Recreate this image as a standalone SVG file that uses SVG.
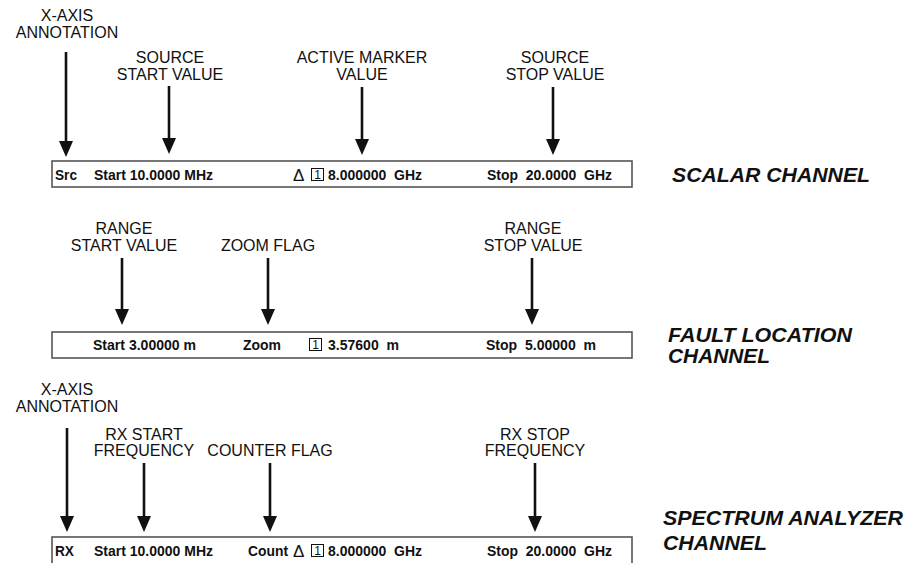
<svg xmlns="http://www.w3.org/2000/svg" width="910" height="563" viewBox="0 0 910 563">
<style>
.lbl{font-family:"Liberation Sans",Arial,sans-serif;font-size:16px;fill:#111;text-anchor:middle}
.val{font-family:"Liberation Sans",Arial,sans-serif;font-size:15.5px;font-weight:bold;fill:#111;white-space:pre}
.chn{font-family:"Liberation Sans",Arial,sans-serif;font-size:20.5px;font-weight:bold;font-style:italic;fill:#111}
.bar{fill:#fff;stroke:#555;stroke-width:1.6}
.arr{stroke:#111;stroke-width:2.6;fill:none;marker-end:url(#ah)}
.mk{fill:none;stroke:#111;stroke-width:1}
.mkt{font-family:"Liberation Sans",Arial,sans-serif;font-size:12px;fill:#111;text-anchor:middle}
.dl{font-family:"Liberation Sans",Arial,sans-serif;font-size:17px;fill:#111}
</style>
<defs>
<marker id="ah" markerUnits="userSpaceOnUse" markerWidth="18" markerHeight="16" viewBox="0 -8 18 16" refX="4" refY="0" orient="auto">
<path d="M0,-7 L16,0 L0,7 z" fill="#111"/>
</marker>
</defs>

<g id="connectors">
<line class="arr" x1="66" y1="52" x2="66" y2="145"/>
<line class="arr" x1="169" y1="86" x2="169" y2="142"/>
<line class="arr" x1="362" y1="87" x2="362" y2="143"/>
<line class="arr" x1="553" y1="87" x2="553" y2="143"/>
<line class="arr" x1="122" y1="258" x2="122" y2="313"/>
<line class="arr" x1="268" y1="258" x2="268" y2="313"/>
<line class="arr" x1="532" y1="258" x2="532" y2="313"/>
<line class="arr" x1="67" y1="428" x2="67" y2="520"/>
<line class="arr" x1="144" y1="463" x2="144" y2="520"/>
<line class="arr" x1="270" y1="463" x2="270" y2="520"/>
<line class="arr" x1="535" y1="463" x2="535" y2="520"/>
</g>

<g id="lbl-xaxis1"><text class="lbl" x="67" y="21">X-AXIS</text><text class="lbl" x="67" y="38">ANNOTATION</text></g>
<g id="lbl-srcstart"><text class="lbl" x="170" y="63">SOURCE</text><text class="lbl" x="170" y="80">START VALUE</text></g>
<g id="lbl-active"><text class="lbl" x="362" y="63">ACTIVE MARKER</text><text class="lbl" x="362" y="80">VALUE</text></g>
<g id="lbl-srcstop"><text class="lbl" x="555" y="63">SOURCE</text><text class="lbl" x="555" y="80">STOP VALUE</text></g>

<g id="scalar-bar">
<rect class="bar" x="52" y="161" width="580" height="26"/>
<text class="val" x="55" y="180" textLength="22" lengthAdjust="spacingAndGlyphs">Src</text>
<text class="val" x="94" y="180" textLength="119" lengthAdjust="spacingAndGlyphs">Start 10.0000 MHz</text>
<text class="dl" x="293" y="181">Δ</text>
<rect class="mk" x="311.5" y="168.5" width="12" height="12"/>
<text class="mkt" x="317.5" y="179">1</text>
<text class="val" x="328" y="180" textLength="94" lengthAdjust="spacingAndGlyphs">8.000000  GHz</text>
<text class="val" x="487" y="180" textLength="125" lengthAdjust="spacingAndGlyphs">Stop  20.0000  GHz</text>
</g>
<g id="scalar-title"><text class="chn" x="672" y="182" textLength="198" lengthAdjust="spacingAndGlyphs">SCALAR CHANNEL</text></g>

<g id="lbl-rangestart"><text class="lbl" x="124" y="234">RANGE</text><text class="lbl" x="124" y="251">START VALUE</text></g>
<g id="lbl-zoom"><text class="lbl" x="268" y="251">ZOOM FLAG</text></g>
<g id="lbl-rangestop"><text class="lbl" x="533" y="234">RANGE</text><text class="lbl" x="533" y="251">STOP VALUE</text></g>

<g id="fault-bar">
<rect class="bar" x="52" y="332" width="580" height="26"/>
<text class="val" x="93" y="350" textLength="103" lengthAdjust="spacingAndGlyphs">Start 3.00000 m</text>
<text class="val" x="243" y="350" textLength="38" lengthAdjust="spacingAndGlyphs">Zoom</text>
<rect class="mk" x="309.5" y="338.5" width="12" height="12"/>
<text class="mkt" x="315.5" y="349">1</text>
<text class="val" x="328" y="350" textLength="71" lengthAdjust="spacingAndGlyphs">3.57600  m</text>
<text class="val" x="486" y="350" textLength="110" lengthAdjust="spacingAndGlyphs">Stop  5.00000  m</text>
</g>
<g id="fault-title"><text class="chn" x="668" y="342" textLength="184" lengthAdjust="spacingAndGlyphs">FAULT LOCATION</text><text class="chn" x="668" y="363" textLength="102" lengthAdjust="spacingAndGlyphs">CHANNEL</text></g>

<g id="lbl-xaxis2"><text class="lbl" x="67" y="395">X-AXIS</text><text class="lbl" x="67" y="412">ANNOTATION</text></g>
<g id="lbl-rxstart"><text class="lbl" x="144" y="440">RX START</text><text class="lbl" x="144" y="456">FREQUENCY</text></g>
<g id="lbl-counter"><text class="lbl" x="270" y="456">COUNTER FLAG</text></g>
<g id="lbl-rxstop"><text class="lbl" x="535" y="440">RX STOP</text><text class="lbl" x="535" y="456">FREQUENCY</text></g>

<g id="spectrum-bar">
<rect class="bar" x="52" y="537" width="580" height="30"/>
<text class="val" x="55" y="556" textLength="19" lengthAdjust="spacingAndGlyphs">RX</text>
<text class="val" x="94" y="556" textLength="119" lengthAdjust="spacingAndGlyphs">Start 10.0000 MHz</text>
<text class="val" x="248" y="556" textLength="40" lengthAdjust="spacingAndGlyphs">Count</text>
<text class="dl" x="293" y="557">Δ</text>
<rect class="mk" x="311.5" y="544.5" width="12" height="12"/>
<text class="mkt" x="317.5" y="555">1</text>
<text class="val" x="328" y="556" textLength="94" lengthAdjust="spacingAndGlyphs">8.000000  GHz</text>
<text class="val" x="487" y="556" textLength="125" lengthAdjust="spacingAndGlyphs">Stop  20.0000  GHz</text>
</g>
<g id="spectrum-title"><text class="chn" x="663" y="525" textLength="240" lengthAdjust="spacingAndGlyphs">SPECTRUM ANALYZER</text><text class="chn" x="663" y="550" textLength="104" lengthAdjust="spacingAndGlyphs">CHANNEL</text></g>
</svg>
